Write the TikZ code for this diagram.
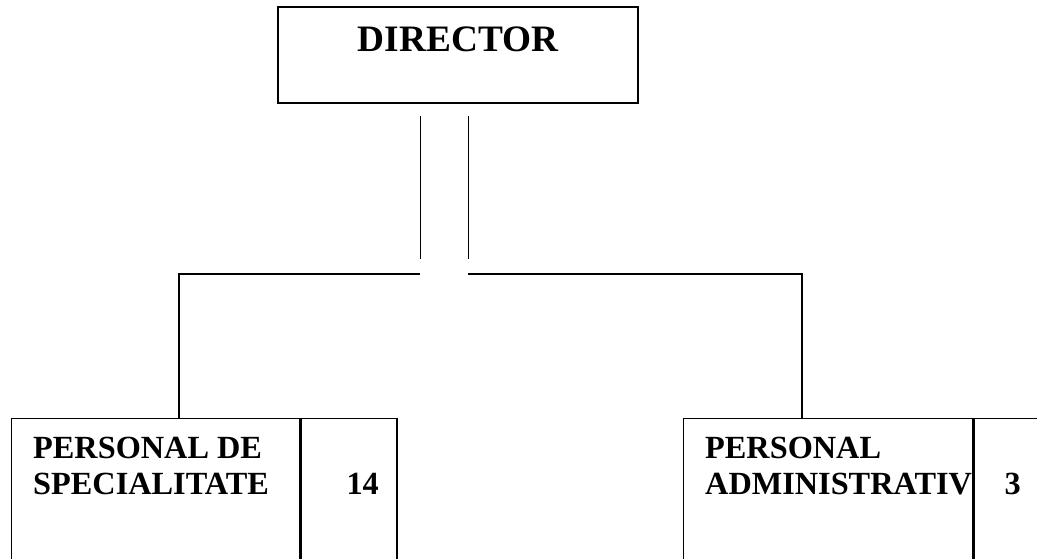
\documentclass[tikz,border=0pt]{standalone}
\usepackage{fontspec}
\setmainfont{Liberation Serif}
\usetikzlibrary{positioning}

\begin{document}
\begin{tikzpicture}[x=1pt, y=-1pt,
	chief/.style={draw, line width=2pt, inner sep=0pt, anchor=north west, minimum width=360pt, minimum height=96pt},
	unit/.style={draw, line width=1.3pt, inner sep=0pt, anchor=north west, minimum height=170pt},
	staff/.style={font=\fontsize{32.3}{36}\bfseries\selectfont, align=left, anchor=base west, inner sep=0pt},
	wire/.style={line width=1.5pt},
	drop/.style={line width=1pt}]

	%% page frame
	\useasboundingbox (0,0) rectangle (1037,559);
	\clip (0,0) rectangle (1037,559);

	%% director
	\node[chief] (director) at (277,6) {};
	\node[anchor=base, inner sep=0pt, font=\fontsize{37.3}{40}\bfseries\selectfont] (directortext) at ([yshift=-46pt]director.north) {DIRECTOR};

	%% the two units
	\node[unit, minimum width=288pt] (spec) at (11,418) {};
	\node[unit, minimum width=96pt, right=0pt of spec.north east, anchor=north west] (specnr) {};
	\node[staff] (spectext) at ([xshift=22pt, yshift=-76pt]spec.north west) {PERSONAL DE\\SPECIALITATE};
	\node[staff] (specnrtext) at ([xshift=46pt, yshift=-76pt]specnr.north west) {14};

	\node[unit, minimum width=289pt] (admin) at (683,418) {};
	\node[unit, minimum width=96pt, right=0pt of admin.north east, anchor=north west] (adminnr) {};
	\node[staff] (admintext) at ([xshift=22pt, yshift=-76pt]admin.north west) {PERSONAL\\ADMINISTRATIV};
	\node[staff] (adminnrtext) at ([xshift=31pt, yshift=-76pt]adminnr.north west) {3};

	%% connectors
	\coordinate (hubleft) at (420,274);
	\coordinate (hubright) at (468,274);

	\draw[drop] ([xshift=-38pt, yshift=-12pt]director.south) -- ++(0,143);
	\draw[drop] ([xshift=10pt, yshift=-12pt]director.south) -- ++(0,143);

	\draw[wire] (hubleft) -| ([xshift=168pt]spec.north west);
	\draw[wire] (hubright) -| ([xshift=119pt]admin.north west);

\end{tikzpicture}
\end{document}
